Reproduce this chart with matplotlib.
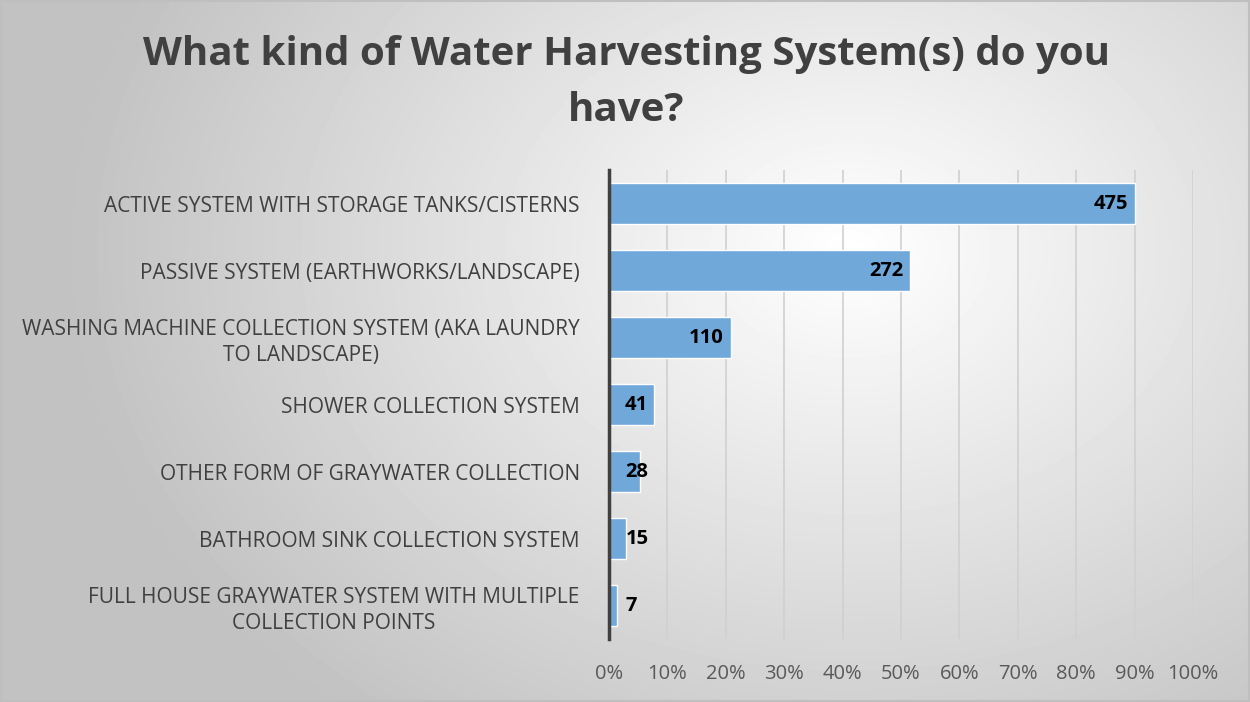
import numpy as np
import matplotlib.pyplot as plt
from matplotlib.ticker import PercentFormatter

# survey answers (counts), top to bottom
categories = [
    "ACTIVE SYSTEM WITH STORAGE TANKS/CISTERNS",
    "PASSIVE SYSTEM (EARTHWORKS/LANDSCAPE)",
    "WASHING MACHINE COLLECTION SYSTEM (AKA LAUNDRY\nTO LANDSCAPE)",
    "SHOWER COLLECTION SYSTEM",
    "OTHER FORM OF GRAYWATER COLLECTION",
    "BATHROOM SINK COLLECTION SYSTEM",
    "FULL HOUSE GRAYWATER SYSTEM WITH MULTIPLE\nCOLLECTION POINTS",
]
counts = [475, 272, 110, 41, 28, 15, 7]
respondents = 527
shares = [c / respondents for c in counts]

plt.rcParams['font.family'] = ['Open Sans', 'DejaVu Sans']

fig = plt.figure(figsize=(12.5, 7.02), dpi=100)

# radial grey background
bg = fig.add_axes([0, 0, 1, 1], zorder=-1)
yy, xx = np.mgrid[0:702, 0:1250]
r = np.sqrt(((xx - 850) / 850.0) ** 2 + ((yy - 250) / 650.0) ** 2)
shade = np.clip(1 - 0.26 * r, 0.76, 1.0)
bg.imshow(shade, cmap='gray', vmin=0, vmax=1, aspect='auto')
bg.axis('off')
fig.patches.append(plt.Rectangle((0.001, 0.001), 0.998, 0.997, transform=fig.transFigure,
                                 fill=False, edgecolor='#BFBFBF', linewidth=1.5))

ax = fig.add_axes([0.4872, 0.0897, 0.4672, 0.668])
ax.set_facecolor('none')
y = np.arange(len(categories))
ax.barh(y, shares, height=0.6, color='#70A8DA', edgecolor='white', linewidth=1, zorder=3)

for i, (v, c) in enumerate(zip(shares, counts)):
    if v > 0.06:
        ax.annotate(str(c), (v, i), xytext=(-5, 0), textcoords='offset points',
                    ha='right', va='center', fontsize=14.5, fontweight='bold', color='black', zorder=4)
    else:
        ax.annotate(str(c), (0, i), xytext=(12, 0), textcoords='offset points',
                    ha='left', va='center', fontsize=14.5, fontweight='bold', color='black', zorder=4)

ax.set_xlim(0, 1)
ax.set_ylim(6.5, -0.5)
ax.set_xticks(np.arange(0, 1.01, 0.1))
ax.xaxis.set_major_formatter(PercentFormatter(1.0, decimals=0))
ax.set_yticks(y)
ax.set_yticklabels(categories, multialignment='center')
ax.grid(axis='x', color='#D0D0D0', linewidth=1.2, zorder=0)
for s in ['top', 'right', 'bottom']:
    ax.spines[s].set_visible(False)
ax.spines['left'].set_color('#404040')
ax.spines['left'].set_linewidth(2.5)
ax.spines['left'].set_zorder(5)
ax.tick_params(axis='x', length=0, labelsize=14.5, colors='#595959', pad=18)
ax.tick_params(axis='y', length=0, labelsize=15, colors='#404040', pad=21)
for t in ax.get_yticklabels():
    t.set_linespacing(1.3)

fig.text(0.501, 0.922, "What kind of Water Harvesting System(s) do you", ha='center', va='center',
         fontsize=29, fontweight='bold', color='#404040')
fig.text(0.501, 0.843, "have?", ha='center', va='center',
         fontsize=29, fontweight='bold', color='#404040')

fig.savefig('out.png', dpi=100)
